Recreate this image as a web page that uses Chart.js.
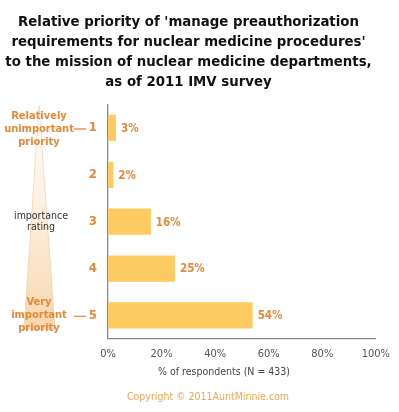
<!DOCTYPE html>
<html lang="en">
<head>
  <meta charset="UTF-8" />
  <title>Relative priority - nuclear medicine</title>
  <script src="https://cdn.jsdelivr.net/npm/chart.js"></script>
  <style>
    body { margin: 0; background: #fff; }
    #wrap { width: 399px; height: 412px; }
  </style>
</head>
<body>
<div id="wrap"><canvas id="chart" width="399" height="412"></canvas></div>
<script>
  const ratings = ["1", "2", "3", "4", "5"];
  const respondents = [3, 2, 16, 25, 54];
  const xTicks = [0, 20, 40, 60, 80, 100];
  const titleLines = [
    "Relative priority of 'manage preauthorization",
    "requirements for nuclear medicine procedures'",
    "to the mission of nuclear medicine departments,",
    "as of 2011 IMV survey"
  ];
  const topNote = ["Relatively", "unimportant", "priority"];
  const midNote = ["importance", "rating"];
  const bottomNote = ["Very", "important", "priority"];
  const xTitle = "% of respondents (N = 433)";
  const copyright = "Copyright \u00a9 2011AuntMinnie.com";

  const narrow = "'Liberation Sans Narrow', 'DejaVu Sans Condensed', sans-serif";
  const orange = "#e8893a";

  const extras = {
    id: "extras",
    beforeDatasetsDraw(chart) {
      const c = chart.ctx, y = chart.scales.y;
      const top = y.getPixelForValue(0) - 22, bot = y.getPixelForValue(4) + 14;
      const g = c.createLinearGradient(0, top, 0, bot);
      g.addColorStop(0, "rgba(250,225,195,0)");
      g.addColorStop(1, "rgba(248,214,172,1)");
      c.save();
      c.beginPath();
      c.moveTo(39, top);
      c.lineTo(55, bot);
      c.lineTo(24, bot);
      c.closePath();
      c.fillStyle = g;
      c.fill();
      c.strokeStyle = "rgba(235,200,160,0.6)";
      c.lineWidth = 1;
      c.stroke();
      c.restore();
    },
    afterDraw(chart) {
      const c = chart.ctx, y = chart.scales.y;
      c.save();
      // value labels
      c.font = "bold 11.5px " + narrow;
      c.fillStyle = orange;
      c.textBaseline = "middle";
      c.textAlign = "left";
      chart.getDatasetMeta(0).data.forEach((bar, i) => {
        c.fillText(respondents[i] + "%", bar.x + 5, bar.y + 1);
      });
      // left notes
      c.textAlign = "center";
      const y1 = y.getPixelForValue(0), y3 = y.getPixelForValue(2), y5 = y.getPixelForValue(4);
      c.font = "bold 11px " + narrow;
      topNote.forEach((t, i) => c.fillText(t, 39, y1 - 12 + i * 13));
      bottomNote.forEach((t, i) => c.fillText(t, 39, y5 - 13 + i * 13));
      c.strokeStyle = orange;
      c.lineWidth = 1.3;
      [y1, y5].forEach(v => {
        c.beginPath();
        c.moveTo(74, v + 1);
        c.lineTo(86, v + 1);
        c.stroke();
      });
      c.fillStyle = "#333";
      c.font = "10.5px " + narrow;
      midNote.forEach((t, i) => c.fillText(t, 41, y3 - 5 + i * 11));
      // axis title and copyright
      c.fillStyle = "#444";
      c.font = "10.5px " + narrow;
      c.fillText(xTitle, 224, 372);
      c.fillStyle = "#f0a550";
      c.font = "10.5px " + narrow;
      c.fillText(copyright, 208, 397);
      c.restore();
    }
  };

  new Chart(document.getElementById("chart"), {
    type: "bar",
    data: {
      labels: ratings,
      datasets: [{
        data: respondents,
        backgroundColor: "#fecb63",
        categoryPercentage: 1,
        barPercentage: 0.56
      }]
    },
    options: {
      indexAxis: "y",
      responsive: false,
      animation: false,
      layout: { padding: { left: 0, right: 22, top: 0, bottom: 42 } },
      plugins: {
        legend: { display: false },
        tooltip: { enabled: false },
        title: {
          display: true,
          text: titleLines,
          color: "#111",
          font: { family: narrow, size: 14.8, weight: "bold", lineHeight: 1.36 },
          padding: { top: 12, bottom: 12 }
        }
      },
      scales: {
        x: {
          min: 0,
          max: 100,
          afterBuildTicks: s => { s.ticks = xTicks.map(v => ({ value: v })); },
          grid: { display: false, drawTicks: false },
          border: { color: "#8a8a8a", width: 1.3 },
          ticks: {
            color: "#555",
            font: { family: narrow, size: 11 },
            padding: 9,
            callback: v => v + "%"
          }
        },
        y: {
          afterFit: s => { s.width = 108; },
          grid: { display: false, drawTicks: false },
          border: { color: "#8a8a8a", width: 1.3 },
          ticks: {
            color: orange,
            font: { family: narrow, size: 13, weight: "bold" },
            padding: 11
          }
        }
      }
    },
    plugins: [extras]
  });
</script>
</body>
</html>
